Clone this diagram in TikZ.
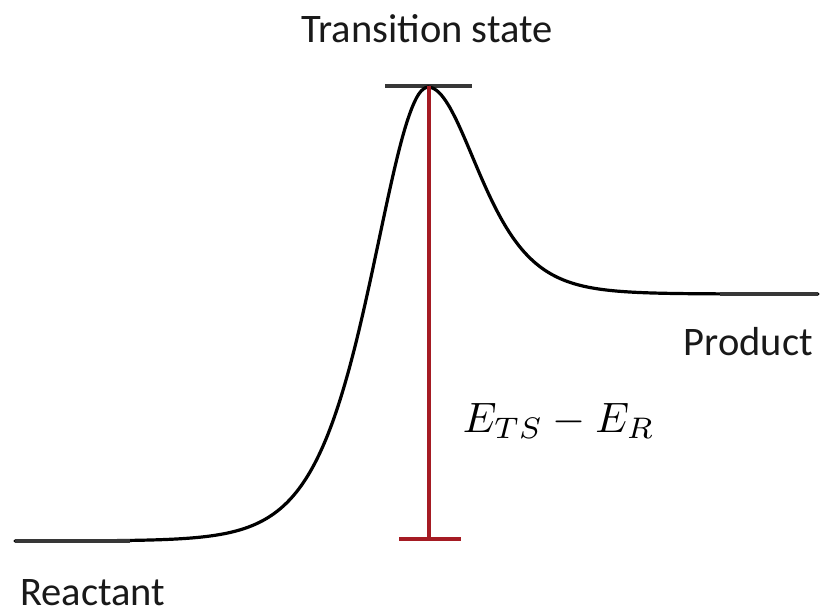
\documentclass[tikz,border=0pt]{standalone}
\usepackage{fontspec}
\setmainfont{Carlito}
\definecolor{barred}{RGB}{165,27,35}
\definecolor{bargray}{RGB}{55,55,55}
\begin{document}
\begin{tikzpicture}[x=1pt,y=-1pt,
  lbl/.style={inner sep=0pt,font=\fontsize{40.5}{48}\selectfont,text=black!90},
  curveline/.style={line width=3.2pt,black,line join=round,line cap=round},
  flatline/.style={line width=3.6pt,bargray},
  redline/.style={line width=3.8pt,barred},
  levelbar/.style={line width=3.8pt,bargray}]
\useasboundingbox (0,0) rectangle (821,613);
% named coordinates
\coordinate (r0) at (15,541);
\coordinate (r1) at (130,541);
\coordinate (peak) at (428,87);
\coordinate (p1) at (720,294);
\coordinate (p0) at (818,294);
\coordinate (tsL) at (385,86);
\coordinate (tsR) at (472,86);
\coordinate (etop) at (429,86);
\coordinate (ebot) at (429,539);
\coordinate (ebL) at (399,539);
\coordinate (ebR) at (461,539);
% level bar of transition state
\draw[levelbar] (tsL) -- (tsR);
% energy profile: rise from reactant, fall to product
\draw[curveline] plot[domain=15:428,samples=180]
  (\x,{541-454*(1/cosh((428-\x)/74))*(1/cosh((428-\x)/74))});
\draw[curveline] plot[domain=428:818,samples=180]
  (\x,{294-207*(1/cosh((\x-428)/67))*(1/cosh((\x-428)/67))});
\draw[flatline] (r0) -- (r1);
\draw[flatline] (p1) -- (p0);
% barrier height
\draw[redline] (etop) -- (ebot);
\draw[redline] (ebL) -- (ebR);
% labels
\node[lbl,anchor=base] (ts) at (427,42) {Transition state};
\node[lbl,anchor=base west] (react) at (20,605) {Reactant};
\node[lbl,anchor=base east] (prod) at (813,355) {Product};
\node[inner sep=0pt,anchor=base west,scale=4.25] (ea) at (462,432) {$E_{TS}-E_R$};
\end{tikzpicture}
\end{document}
